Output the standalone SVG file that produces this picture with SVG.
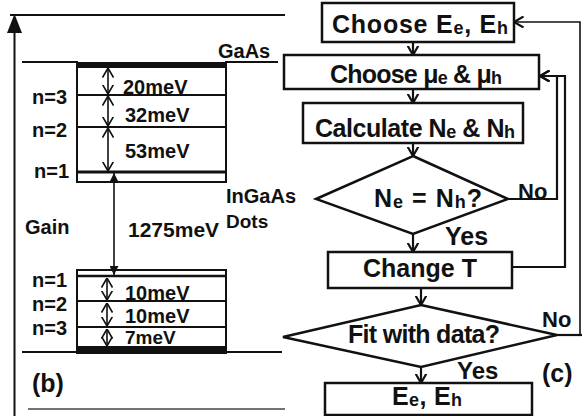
<svg xmlns="http://www.w3.org/2000/svg" width="582" height="416" viewBox="0 0 582 416">
<style>
 text{font-family:"Liberation Sans",Arial,sans-serif;font-weight:bold;fill:#111}
 .lbl{font-size:20px}
 .fc{font-size:25px}
 .sub{font-size:18px}
 .tag{font-size:25px}
 .box{fill:#fff;stroke:#111;stroke-width:2.5}
 .ln{stroke:#111;stroke-width:2;fill:none}
 .dbl{stroke:#111;stroke-width:1.6;fill:none;marker-start:url(#dv);marker-end:url(#dv)}
 .conn{stroke:#111;stroke-width:2.2;fill:none;marker-end:url(#fa)}
 .line{stroke:#111;stroke-width:2.2;fill:none}
</style>
<defs>
 <marker id="fa" viewBox="0 0 10 12" refX="9.5" refY="6" markerWidth="10" markerHeight="12" markerUnits="userSpaceOnUse" orient="auto"><path d="M0,0.5 L9.5,6 L0,11.5" fill="none" stroke="#111" stroke-width="2.2"/></marker>
 <marker id="dv" viewBox="0 0 10 12" refX="9.5" refY="6" markerWidth="10" markerHeight="12" markerUnits="userSpaceOnUse" orient="auto-start-reverse"><path d="M0,0.5 L9.5,6 L0,11.5" fill="none" stroke="#111" stroke-width="1.6"/></marker>
 <marker id="tri" viewBox="0 0 10 10" refX="10" refY="5" markerWidth="9" markerHeight="9" markerUnits="userSpaceOnUse" orient="auto-start-reverse"><path d="M0,0 L10,5 L0,10Z" fill="#111"/></marker>
</defs>

<g id="band-diagram">
 <line class="ln" x1="14.5" y1="28" x2="14.5" y2="416"/>
 <polygon points="7,33 14.5,14 22,33" fill="#111"/>
 <line class="ln" x1="10" y1="15" x2="285" y2="15"/>
 <line class="ln" x1="22" y1="62" x2="78" y2="62"/>
 <line class="ln" x1="225" y1="62" x2="278" y2="62"/>
 <rect x="77" y="63" width="149" height="119" fill="none" stroke="#111" stroke-width="2"/>
 <rect x="77" y="62" width="149" height="6" fill="#111"/>
 <line class="ln" x1="77" y1="95" x2="226" y2="95"/>
 <line class="ln" x1="77" y1="127" x2="226" y2="127"/>
 <line x1="77" y1="172" x2="226" y2="172" stroke="#111" stroke-width="3"/>
 <path class="dbl" d="M108,68 V94"/>
 <path class="dbl" d="M108,96 V126"/>
 <path class="dbl" d="M108,128 V171"/>
 <line x1="114" y1="173" x2="114" y2="275" stroke="#111" stroke-width="1.6" marker-start="url(#tri)" marker-end="url(#tri)"/>
 <rect x="77" y="270" width="149" height="83" fill="none" stroke="#111" stroke-width="2"/>
 <line x1="77" y1="276" x2="226" y2="276" stroke="#111" stroke-width="2.5"/>
 <line class="ln" x1="77" y1="301" x2="226" y2="301"/>
 <line class="ln" x1="77" y1="327" x2="226" y2="327"/>
 <rect x="77" y="346" width="149" height="7" fill="#111"/>
 <line class="ln" x1="22" y1="352" x2="282" y2="352"/>
 <path class="dbl" d="M107,278 V300"/>
 <path class="dbl" d="M107,303 V326"/>
 <path class="dbl" d="M107,329 V346"/>
 <line x1="28" y1="409" x2="285" y2="409" stroke="#444" stroke-width="1.5"/>
 <text class="lbl" x="218" y="58">GaAs</text>
 <text class="lbl" x="32" y="104">n=3</text>
 <text class="lbl" x="32" y="137">n=2</text>
 <text class="lbl" x="34" y="178">n=1</text>
 <text class="lbl" x="123" y="94">20meV</text>
 <text class="lbl" x="125" y="122">32meV</text>
 <text class="lbl" x="125" y="158">53meV</text>
 <text class="lbl" x="226" y="203">InGaAs</text>
 <text class="lbl" x="226" y="228" style="font-size:19px">Dots</text>
 <text class="lbl" x="25" y="234">Gain</text>
 <text class="lbl" x="128" y="237" style="font-size:21px">1275meV</text>
 <text class="lbl" x="32" y="287">n=1</text>
 <text class="lbl" x="32" y="311">n=2</text>
 <text class="lbl" x="32" y="335">n=3</text>
 <text class="lbl" x="125" y="300">10meV</text>
 <text class="lbl" x="125" y="323">10meV</text>
 <text class="lbl" x="125" y="344" style="font-size:19px">7meV</text>
 <text class="tag" x="32" y="392">(b)</text>
</g>

<g id="connectors">
 <path class="conn" d="M413,42 V55"/>
 <path class="conn" d="M413,89 V103"/>
 <path class="conn" d="M413,143 V156"/>
 <path class="conn" d="M413,234 V252"/>
 <path class="conn" d="M421,288 V305"/>
 <path class="conn" d="M421,367 V383"/>
 <path class="conn" d="M508,199 H557 V76 H540"/>
 <path class="conn" d="M512,267 H565 V76 H540"/>
 <path class="line" d="M557,335 H582"/>
 <path class="conn" d="M580,335 V22 H514" style="stroke-width:1.6"/>
 <text class="fc" x="518" y="199" style="font-size:22px">No</text>
 <text class="fc" x="445" y="245">Yes</text>
 <text class="fc" x="542" y="327" style="font-size:22px">No</text>
 <text class="fc" x="457" y="379" style="font-size:24px">Yes</text>
</g>

<g id="choose-E">
 <rect class="box" x="322" y="3" width="192" height="39"/>
 <text class="fc" x="332" y="33" textLength="176" lengthAdjust="spacing">Choose E<tspan class="sub" dy="1">e</tspan><tspan dy="-1">, E</tspan><tspan class="sub" dy="1">h</tspan></text>
</g>
<g id="choose-mu">
 <rect class="box" x="284" y="55" width="255" height="34"/>
 <text class="fc" x="330" y="83" textLength="172" lengthAdjust="spacing">Choose μ<tspan class="sub" dy="1">e</tspan><tspan dy="-1"> &amp; μ</tspan><tspan class="sub" dy="1">h</tspan></text>
</g>
<g id="calculate-N">
 <rect class="box" x="303" y="103" width="220" height="40"/>
 <text class="fc" x="315" y="137" textLength="200" lengthAdjust="spacing">Calculate N<tspan class="sub" dy="1">e</tspan><tspan dy="-1"> &amp; N</tspan><tspan class="sub" dy="1">h</tspan></text>
</g>
<g id="ne-eq-nh">
 <polygon class="box" points="413,156 508,199 413,234 316,199"/>
 <text class="fc" x="374" y="207" textLength="108" lengthAdjust="spacing">N<tspan class="sub" dy="1">e</tspan><tspan dy="-1"> = N</tspan><tspan class="sub" dy="1">h</tspan><tspan dy="-1">?</tspan></text>
</g>
<g id="change-T">
 <rect class="box" x="328" y="252" width="184" height="36"/>
 <text class="fc" x="363" y="277" textLength="114" lengthAdjust="spacing">Change T</text>
</g>
<g id="fit-data">
 <polygon class="box" points="421,305 557,335 421,367 283,337"/>
 <text class="fc" x="348" y="343" textLength="152" lengthAdjust="spacing">Fit with data?</text>
</g>
<g id="result-E">
 <rect class="box" x="325" y="383" width="207" height="32"/>
 <text class="fc" x="392" y="405" textLength="70" lengthAdjust="spacing">E<tspan class="sub" dy="1">e</tspan><tspan dy="-1">, E</tspan><tspan class="sub" dy="1">h</tspan></text>
</g>
<text class="tag" x="542" y="382">(c)</text>
</svg>
